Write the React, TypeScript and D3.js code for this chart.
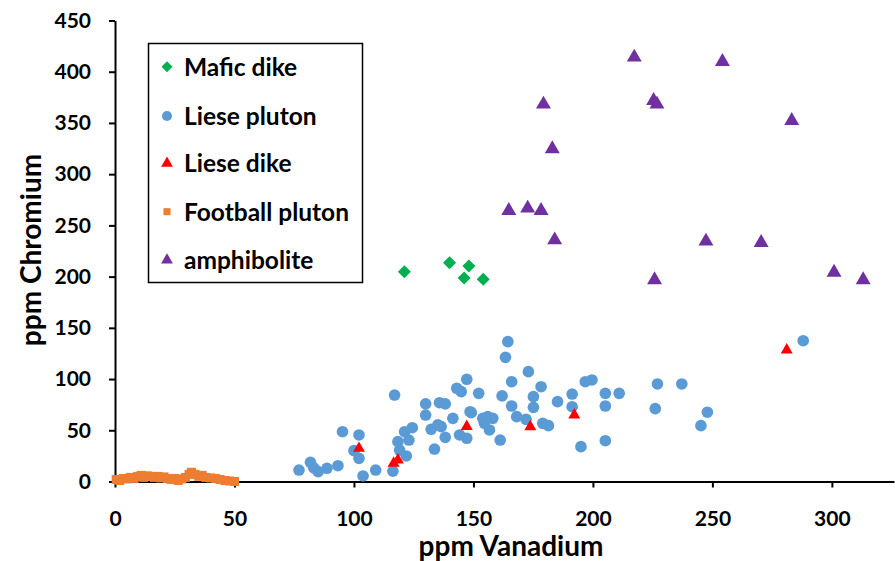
import React, { useEffect, useRef } from 'react';
import * as d3 from 'd3';

const W = 895;
const H = 561;
const FONT = "Lato, 'Open Sans', sans-serif";

// series: vanadium (x) and chromium (y) in ppm
const maficV = [121.1, 140.0, 148.1, 146.1, 154.1];
const maficCr = [204.8, 213.6, 210.4, 198.7, 197.4];

const plutonV = [
  77.0, 81.8, 85.0, 88.7, 93.3, 95.2, 102.1, 100.0, 102.1, 103.8, 109.1, 116.3, 117.0, 118.4, 121.2,
  124.4, 123.0, 121.9, 119.1, 130.0, 130.0, 135.8, 138.2, 132.3, 135.1, 136.5, 138.2, 133.7, 141.4,
  143.0, 147.2, 144.9, 152.2, 148.6, 144.2, 147.2, 153.9, 156.0, 158.1, 154.6, 156.7, 164.4, 163.4,
  173.0, 166.0, 178.3, 162.0, 175.1, 166.0, 175.1, 185.2, 191.3, 191.3, 196.8, 199.6, 149.1, 168.1,
  172.0, 179.0, 181.4, 161.2, 195.0, 205.2, 211.0, 205.2, 205.2, 227.0, 237.2, 226.1, 247.9, 245.2,
  288.0, 83.2,
];
const plutonCr = [
  11.2, 18.7, 9.6, 12.9, 15.4, 48.6, 45.4, 30.1, 22.6, 5.4, 11.2, 10.2, 84.4, 38.9, 48.6,
  52.5, 40.5, 24.9, 30.7, 75.7, 64.9, 76.9, 75.7, 51.0, 55.2, 53.5, 43.1, 31.7, 61.7,
  91.0, 99.8, 87.7, 86.1, 68.1, 45.4, 42.2, 61.7, 63.3, 61.7, 56.8, 50.3, 136.5, 121.2,
  107.2, 97.4, 92.5, 83.5, 82.8, 73.7, 72.4, 77.9, 85.4, 73.0, 97.4, 99.1, 67.2, 63.3,
  60.7, 56.8, 54.5, 40.5, 34.0, 86.1, 86.1, 73.7, 39.8, 95.2, 95.2, 71.1, 67.6, 54.5,
  137.4, 13.2,
];

const dikeV = [102.1, 116.6, 118.4, 147.2, 173.8, 192.2, 281.1];
const dikeCr = [32.4, 17.8, 21.0, 53.7, 53.5, 64.9, 128.4];

const footballV = [
  0.5, 2, 3.5, 5, 6.5, 8, 9.5, 11, 12, 13.5, 15, 16.5, 18, 19, 20.5, 22, 23.5, 25, 26.5, 28, 29.5,
  31, 32, 33.5, 35, 36.5, 38, 40, 42, 44, 46, 48, 50,
];
const footballCr = [
  2, 1, 3, 2.5, 4, 3, 5, 6, 4, 5.5, 5, 4, 5, 3.5, 4.5, 3, 2, 3, 1, 2.5, 4,
  7, 9, 7, 5, 6, 4, 3.5, 3, 2, 1, 0.5, 0,
];

const amphV = [
  217.3, 254.2, 179.3, 225.4, 226.8, 283.2, 183.0, 164.8, 172.7, 178.3, 184.0, 247.3, 270.4, 225.8,
  300.9, 313.1,
];
const amphCr = [
  414.1, 409.8, 368.2, 371.7, 368.2, 352.2, 324.6, 264.3, 266.7, 264.3, 235.7, 234.5, 233.1, 196.7,
  204.2, 196.7,
];

const xTicks = [0, 50, 100, 150, 200, 250, 300];
const yTicks = [0, 50, 100, 150, 200, 250, 300, 350, 400, 450];

const series = [
  { name: 'Mafic dike', v: maficV, cr: maficCr, color: '#00B050', shape: 'diamond', size: 85 },
  { name: 'Liese pluton', v: plutonV, cr: plutonCr, color: '#5B9BD5', shape: 'circle', size: 107 },
  { name: 'Liese dike', v: dikeV, cr: dikeCr, color: '#FF0000', shape: 'triangle', size: 62 },
  { name: 'Football pluton', v: footballV, cr: footballCr, color: '#ED7D31', shape: 'square', size: 81 },
  { name: 'amphibolite', v: amphV, cr: amphCr, color: '#7030A0', shape: 'triangle', size: 97 },
];

const symbolPath = (shape: string, size: number) => {
  if (shape === 'circle') return d3.symbol(d3.symbolCircle, size)()!;
  if (shape === 'triangle') return d3.symbol(d3.symbolTriangle, size)()!;
  return d3.symbol(d3.symbolSquare, size)()!;
};

const App = () => {
  const xAxisRef = useRef<SVGGElement>(null);
  const yAxisRef = useRef<SVGGElement>(null);

  const x = d3.scaleLinear().domain([0, 326]).range([115, 894]);
  const y = d3.scaleLinear().domain([0, 450]).range([481.5, 20.5]);

  useEffect(() => {
    const gx = d3.select(xAxisRef.current);
    gx.selectAll('*').remove();
    gx.call(d3.axisBottom(x).tickValues(xTicks).tickSize(6).tickSizeOuter(0).tickPadding(24));
    const gy = d3.select(yAxisRef.current);
    gy.selectAll('*').remove();
    gy.call(d3.axisLeft(y).tickValues(yTicks).tickSize(6).tickSizeOuter(0).tickPadding(18));
    [gx, gy].forEach((g) => {
      g.selectAll('path, line').attr('stroke', '#000').attr('stroke-width', 2);
      g.selectAll('text')
        .attr('fill', '#000')
        .style('font-family', FONT)
        .style('font-weight', 'bold')
        .style('font-size', '21px');
    });
  }, []);

  const legendRows = [66.7, 116, 163.3, 211.7, 260];

  return (
    <svg width={W} height={H} style={{ position: 'absolute', left: 0, top: 0, background: '#fff' }}>
      <g ref={xAxisRef} transform={`translate(0,${y(0)})`} />
      <g ref={yAxisRef} transform={`translate(${x(0)},0)`} />

      {series.map((s) => (
        <g key={s.name} fill={s.color}>
          {s.v.map((v, i) => (
            <path
              key={i}
              d={symbolPath(s.shape, s.size)}
              transform={`translate(${x(v)},${y(s.cr[i])})${s.shape === 'diamond' ? ' rotate(45)' : ''}`}
            />
          ))}
        </g>
      ))}

      <g>
        <rect x={148.5} y={43.5} width={214} height={239} fill="#fff" stroke="#000" strokeWidth={1.5} />
        {series.map((s, i) => (
          <g key={s.name} transform={`translate(0,${legendRows[i]})`}>
            <path
              d={symbolPath(s.shape, s.shape === 'circle' ? 80 : s.shape === 'square' ? 50 : 60)}
              transform={`translate(167,0)${s.shape === 'diamond' ? ' rotate(45)' : ''}`}
              fill={s.color}
            />
            <text
              x={184}
              y={0}
              dy="0.36em"
              style={{ fontFamily: FONT, fontWeight: 'bold', fontSize: '24.5px' }}
              fill="#000"
            >
              {s.name}
            </text>
          </g>
        ))}
      </g>

      <text
        transform="translate(31,250) rotate(-90)"
        textAnchor="middle"
        dy="0.36em"
        style={{ fontFamily: FONT, fontWeight: 'bold', fontSize: '28px' }}
        fill="#000"
      >
        ppm Chromium
      </text>
      <text
        x={511}
        y={546}
        textAnchor="middle"
        dy="0.36em"
        style={{ fontFamily: FONT, fontWeight: 'bold', fontSize: '28px' }}
        fill="#000"
      >
        ppm Vanadium
      </text>
    </svg>
  );
};

export default App;
